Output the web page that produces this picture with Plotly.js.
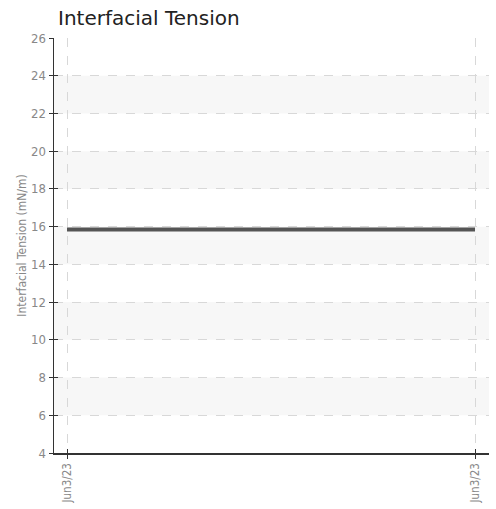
<!DOCTYPE html>
<html>
<head>
<meta charset="utf-8">
<script src="https://cdn.plot.ly/plotly-3.0.1.min.js"></script>
<style>html,body{margin:0;padding:0;background:#fff;}#chart{width:496px;height:509px;}</style>
</head>
<body>
<div id="chart"></div>
<script>
// Data
const xPositions = [0, 1];
const xTickLabels = ["Jun3/23", "Jun3/23"];
const tensionValues = [15.85, 15.85];
const yTickValues = [4, 6, 8, 10, 12, 14, 16, 18, 20, 22, 24, 26];

const bands = [];
for (let i = 0; i < yTickValues.length - 1; i++) {
  if (i % 2 === 1) {
    bands.push({
      type: 'rect', xref: 'paper', yref: 'y', layer: 'below',
      x0: 0, x1: 1, y0: yTickValues[i], y1: yTickValues[i + 1],
      fillcolor: '#f7f7f7', line: {width: 0}
    });
  }
}

const narrow = '"DejaVu Sans Condensed", sans-serif';
const xRange = [-0.0319, 1.0343];
const yRange = [4, 26];

Plotly.newPlot('chart', [{
  x: xPositions,
  y: tensionValues,
  type: 'scatter',
  mode: 'lines',
  line: {color: '#555555', width: 4},
  hoverinfo: 'none'
}, {
  x: xPositions, y: tensionValues, xaxis: 'x2', yaxis: 'y2',
  type: 'scatter', mode: 'lines', line: {width: 0}, hoverinfo: 'none', opacity: 0
}], {
  width: 496, height: 509,
  margin: {l: 54, r: 7, t: 38, b: 56},
  paper_bgcolor: '#ffffff',
  plot_bgcolor: '#ffffff',
  showlegend: false,
  title: {
    text: 'Interfacial Tension',
    x: 0, xref: 'paper', xanchor: 'left',
    y: 1, yref: 'container', yanchor: 'top', pad: {t: 11, l: 4},
    font: {family: '"DejaVu Sans", Verdana, sans-serif', size: 20, color: '#222'}
  },
  shapes: bands,
  xaxis: {
    range: xRange,
    tickvals: xPositions,
    ticktext: xTickLabels,
    tickangle: -90,
    tickfont: {family: narrow, size: 11.5, color: '#888'},
    showgrid: true, gridcolor: '#d8d8d8', griddash: 'dash', gridwidth: 1,
    zeroline: false,
    showline: true, linecolor: '#333', linewidth: 1.5,
    ticks: 'outside', ticklen: 4, tickcolor: '#333'
  },
  yaxis: {
    range: yRange,
    tickvals: yTickValues,
    tickfont: {family: narrow, size: 13, color: '#888'},
    showgrid: true, gridcolor: '#d8d8d8', griddash: 'dash', gridwidth: 1,
    zeroline: false,
    showline: true, linecolor: '#333', linewidth: 1.5,
    ticks: 'outside', ticklen: 4, tickcolor: '#333',
    title: {text: 'Interfacial Tension (mN/m)', standoff: 2,
      font: {family: narrow, size: 12, color: '#888'}}
  },
  xaxis2: {
    overlaying: 'x', range: xRange, tickvals: xPositions, showticklabels: false,
    showgrid: false, zeroline: false, showline: false,
    ticks: 'inside', ticklen: 4, tickcolor: '#333', anchor: 'y2'
  },
  yaxis2: {
    overlaying: 'y', range: yRange, tickvals: yTickValues, showticklabels: false,
    showgrid: false, zeroline: false, showline: false,
    ticks: 'inside', ticklen: 4, tickcolor: '#333', anchor: 'x2'
  }
}, {displayModeBar: false, staticPlot: true});
</script>
</body>
</html>
